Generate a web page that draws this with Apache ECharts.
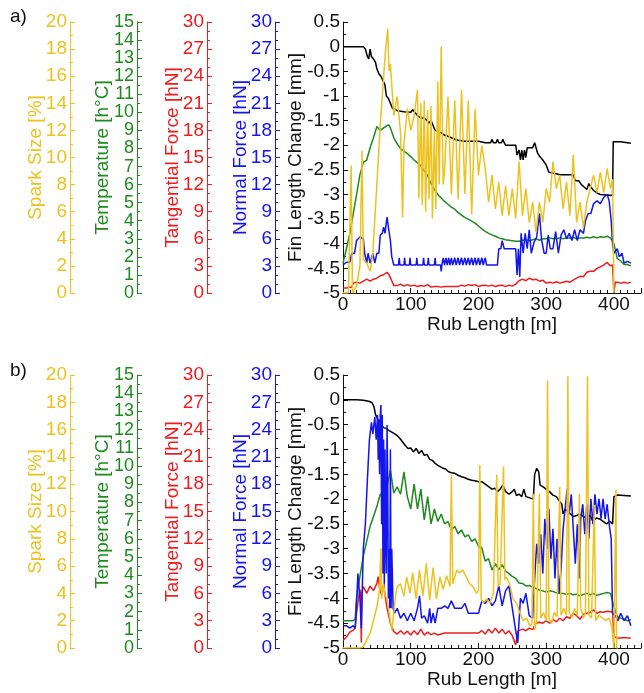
<!DOCTYPE html>
<html><head><meta charset="utf-8">
<script src="https://cdn.jsdelivr.net/npm/echarts@6/dist/echarts.min.js"></script>
<style>html,body{margin:0;padding:0;background:#fff}#c{width:644px;height:693px}</style>
</head><body><div id="c"></div>
<script>
// ---------- Panel a ----------
const finA = [[0,0],[30,0],[33,-0.05],[36,-0.2],[38,-0.25],[40,-0.05],[42,-0.2],[45,-0.25],[48,-0.32],[50,-0.45],[53,-0.55],[56,-0.6],[60,-0.72],[62,-0.78],[64,-1.0],[67,-1.05],[70,-1.15],[73,-1.25],[76,-1.27],[80,-1.3],[90,-1.32],[100,-1.33],[103,-1.28],[106,-1.33],[110,-1.4],[115,-1.45],[120,-1.45],[124,-1.5],[127,-1.55],[130,-1.5],[133,-1.6],[136,-1.7],[140,-1.72],[145,-1.75],[150,-1.8],[155,-1.82],[160,-1.85],[165,-1.88],[170,-1.9],[180,-1.92],[200,-1.92],[210,-1.95],[218,-1.95],[220,-1.88],[222,-1.95],[226,-1.95],[228,-1.88],[230,-1.95],[234,-1.95],[236,-1.88],[238,-1.95],[240,-2.0],[255,-2.0],[257,-2.2],[260,-2.1],[262,-2.3],[264,-2.1],[266,-2.3],[268,-2.1],[270,-2.25],[272,-2.05],[280,-2.05],[283,-1.95],[285,-1.93],[287,-2.15],[290,-2.22],[295,-2.3],[300,-2.4],[304,-2.55],[315,-2.58],[320,-2.6],[340,-2.6],[343,-2.72],[348,-2.72],[352,-2.8],[356,-2.85],[360,-2.9],[363,-2.78],[366,-2.85],[370,-2.92],[375,-2.97],[380,-3.0],[398,-3.02],[399,-1.93],[410,-1.93],[425,-1.96]];
const tempA = [[0,1.64],[5,2.45],[10,3.27],[15,4.36],[20,5.45],[25,6.55],[30,7.23],[35,7.36],[40,8.04],[45,8.59],[50,9.22],[55,9.0],[60,9.14],[65,9.27],[68,9.3],[70,9.14],[75,8.59],[80,8.26],[85,7.99],[90,7.85],[95,7.72],[100,7.55],[105,7.36],[110,7.2],[115,7.04],[120,6.76],[125,6.49],[130,6.05],[135,5.73],[140,5.45],[145,5.26],[150,5.07],[155,4.91],[160,4.75],[165,4.64],[170,4.45],[175,4.31],[180,4.17],[185,4.09],[190,3.98],[195,3.87],[200,3.71],[205,3.55],[210,3.41],[215,3.3],[220,3.22],[225,3.14],[230,3.05],[235,3.0],[240,2.95],[245,2.92],[250,2.89],[255,2.86],[260,2.86],[265,2.92],[270,2.95],[275,2.89],[280,2.95],[285,3.0],[290,2.92],[295,3.0],[300,3.0],[305,3.05],[310,3.0],[315,3.0],[320,3.05],[325,3.0],[330,3.05],[335,3.05],[340,3.08],[345,3.0],[350,3.05],[355,3.05],[360,3.08],[365,3.05],[370,3.11],[375,3.05],[380,3.11],[385,3.08],[390,3.14],[395,3.05],[400,2.73],[405,1.91],[410,1.77],[415,1.58],[420,1.58],[425,1.5]];
const tangA = [[0,0.55],[5,0.55],[10,0.65],[13,0.65],[15,1.09],[20,1.2],[25,1.09],[30,1.31],[35,1.53],[40,1.31],[45,1.53],[50,1.64],[55,1.91],[60,2.02],[65,2.29],[68,2.0],[72,1.36],[75,0.82],[80,0.82],[85,0.98],[90,0.76],[95,0.93],[100,0.76],[105,0.87],[110,0.71],[115,0.82],[120,0.76],[125,0.93],[130,0.65],[135,0.71],[140,0.71],[145,0.65],[150,0.71],[160,0.71],[170,0.71],[175,0.87],[180,0.76],[185,0.93],[190,0.82],[195,0.93],[200,0.71],[205,0.82],[210,0.87],[215,0.76],[220,0.87],[225,0.71],[230,0.82],[235,0.87],[240,0.71],[245,0.87],[250,0.76],[255,0.98],[260,1.36],[265,1.53],[270,1.36],[275,1.64],[280,1.47],[285,1.53],[290,1.31],[295,1.42],[300,1.09],[305,1.2],[310,1.09],[315,1.25],[320,1.09],[325,1.2],[330,1.31],[335,1.2],[340,1.42],[345,1.64],[350,1.85],[355,1.8],[360,2.29],[365,2.4],[370,2.4],[375,2.73],[380,2.89],[385,3.11],[390,3.38],[395,3.0],[398,3.1],[400,0],[402,1.2],[405,1.2],[410,1.09],[415,1.2],[420,1.09],[425,1.2]];
const normA = [[0,3.1],[5,3.4],[10,3.4],[13,4.4],[17,4.4],[20,5.8],[25,6.2],[30,6.0],[32,4.4],[35,3.3],[37,4.4],[40,3.3],[44,4.4],[47,3.3],[50,4.4],[53,4.4],[55,6.4],[58,6.6],[60,7.3],[62,6.6],[65,8.4],[67,7.3],[70,5.8],[72,4.0],[75,3.1],[82,3.1],[83,3.9],[84,3.1],[90,3.1],[91,3.9],[92,3.1],[98,3.1],[99,3.9],[100,3.1],[108,3.1],[109,3.9],[110,3.1],[118,3.1],[119,3.9],[120,3.1],[125,3.1],[126,3.9],[127,3.1],[135,3.1],[136,3.9],[137,3.1],[144,3.1],[145,2.4],[146,3.1],[148,3.9],[150,3.1],[152,3.9],[154,3.1],[156,3.9],[158,3.1],[160,3.9],[162,3.1],[165,3.9],[167,3.1],[170,3.9],[172,3.1],[175,3.9],[177,3.1],[180,3.9],[182,3.1],[185,3.9],[187,3.1],[190,3.9],[192,3.1],[195,3.9],[197,3.1],[200,3.9],[202,3.1],[205,3.9],[207,3.1],[210,3.9],[212,3.1],[228,3.1],[230,4.9],[233,4.9],[235,5.8],[238,4.9],[255,4.9],[257,2.0],[259,4.9],[261,1.8],[263,6.6],[266,4.4],[269,6.6],[272,4.9],[275,7.0],[278,4.4],[282,5.6],[286,6.2],[290,8.8],[293,6.0],[297,4.4],[300,4.4],[303,6.4],[306,4.9],[310,4.9],[314,6.8],[318,4.4],[322,6.4],[326,7.0],[330,6.0],[334,6.6],[338,5.8],[342,7.0],[346,5.8],[350,7.0],[355,6.6],[358,8.0],[362,8.8],[366,8.8],[370,9.9],[375,10.2],[380,9.9],[385,10.6],[390,10.9],[393,10.2],[396,8.0],[398,5.5],[400,4.4],[405,4.9],[408,4.0],[412,4.4],[415,3.3],[420,3.5],[425,3.3]];
const sparkA = [[0,0],[8,0],[12,9.4],[14,0],[20,0.5],[25,2.0],[28,10.5],[30,2.5],[35,2.2],[40,1.6],[44,2.9],[47,5.5],[50,8.0],[55,12.4],[60,16.0],[63,18.0],[66,19.5],[68,16.4],[70,16.9],[75,13.1],[80,14.5],[85,11.8],[88,5.6],[90,11.0],[95,13.6],[100,12.0],[105,13.1],[110,15.0],[112,7.0],[115,14.0],[117,6.5],[120,14.2],[122,6.0],[125,13.5],[127,6.9],[130,13.8],[132,5.5],[135,12.0],[137,6.2],[140,15.6],[142,8.0],[145,18.2],[148,8.0],[150,9.0],[155,14.5],[160,7.3],[165,14.2],[170,6.9],[175,15.0],[180,7.3],[185,14.2],[190,5.8],[195,13.6],[200,8.7],[205,10.9],[210,9.2],[215,6.7],[220,8.7],[225,6.2],[230,8.2],[235,5.7],[240,7.9],[245,5.7],[250,7.7],[255,5.5],[260,9.7],[265,5.7],[270,7.7],[275,5.2],[280,6.7],[285,4.5],[290,6.7],[295,5.2],[300,7.7],[305,6.7],[310,9.7],[315,7.7],[320,8.7],[325,6.2],[330,8.2],[335,5.7],[340,10.2],[345,5.2],[350,6.7],[355,4.8],[360,6.7],[365,7.7],[370,8.7],[375,7.4],[380,8.9],[385,7.4],[390,9.2],[395,7.7],[398,8.4],[400,0]];

// ---------- Panel b ----------
const finB = [[0,0],[20,0],[30,-0.01],[38,-0.03],[43,-0.06],[46,-0.15],[48,-0.3],[50,-0.35],[53,-0.45],[56,-0.5],[60,-0.56],[64,-0.58],[68,-0.62],[72,-0.65],[76,-0.68],[80,-0.72],[84,-0.78],[88,-0.85],[92,-0.92],[96,-0.98],[100,-0.97],[104,-1.05],[108,-0.98],[112,-1.08],[116,-1.02],[120,-1.12],[124,-1.1],[128,-1.2],[132,-1.22],[136,-1.28],[140,-1.32],[144,-1.35],[148,-1.38],[152,-1.4],[156,-1.45],[160,-1.47],[165,-1.48],[170,-1.52],[175,-1.55],[180,-1.57],[185,-1.6],[190,-1.62],[195,-1.63],[200,-1.65],[205,-1.65],[210,-1.7],[215,-1.75],[220,-1.8],[224,-1.78],[228,-1.85],[232,-1.8],[236,-1.72],[240,-1.85],[245,-1.9],[250,-1.85],[253,-1.8],[256,-1.93],[260,-1.9],[264,-1.95],[267,-1.8],[270,-1.95],[275,-1.97],[281,-2.0],[283,-1.5],[286,-1.38],[289,-1.45],[291,-1.72],[295,-1.75],[300,-1.8],[305,-1.85],[310,-1.92],[315,-1.95],[320,-2.05],[323,-2.1],[325,-2.3],[328,-2.2],[332,-2.25],[336,-2.3],[340,-2.35],[345,-2.33],[350,-2.3],[355,-2.35],[360,-2.38],[365,-2.33],[369,-2.45],[374,-2.38],[379,-2.4],[384,-2.45],[389,-2.5],[394,-2.45],[398,-2.5],[400,-1.95],[405,-1.92],[415,-1.93],[425,-1.94]];
const tempB = [[0,1.5],[15,1.5],[18,1.6],[20,2.78],[25,3.95],[30,5.05],[35,5.86],[40,6.68],[45,7.23],[50,7.77],[55,8.45],[60,8.32],[65,8.86],[70,9.76],[75,8.51],[80,8.86],[85,8.45],[90,9.68],[95,8.32],[100,7.64],[105,9.0],[110,7.64],[115,8.73],[120,7.04],[125,8.32],[130,6.82],[135,7.64],[140,6.95],[145,7.36],[150,6.82],[155,6.95],[160,6.49],[165,6.68],[170,6.27],[175,6.49],[180,6.11],[185,6.22],[190,5.86],[195,6.0],[200,5.59],[205,5.51],[210,4.77],[215,4.91],[220,4.28],[225,4.64],[230,4.31],[235,4.58],[240,4.23],[245,4.09],[250,3.93],[255,3.82],[260,3.57],[265,3.55],[270,3.41],[275,3.44],[280,3.33],[285,3.27],[290,3.19],[295,3.14],[300,3.08],[305,3.14],[310,3.11],[315,3.03],[320,3.0],[325,3.0],[330,2.95],[335,3.0],[340,2.92],[345,2.95],[350,2.86],[355,2.95],[360,3.0],[365,2.92],[370,3.0],[375,2.89],[380,2.95],[385,3.0],[390,3.05],[395,3.0],[400,2.29],[405,1.72],[410,1.64],[415,1.58],[420,1.5],[425,1.55]];
const tangB = [[0,0.82],[5,1.2],[10,1.75],[15,1.96],[18,2.2],[20,3.8],[23,5.5],[25,6.4],[26,6.0],[27,0.6],[28,6.0],[30,6.76],[35,6.0],[40,6.8],[45,6.3],[50,7.1],[52,7.85],[55,6.0],[60,6.8],[65,4.4],[70,2.7],[75,1.8],[80,1.53],[85,1.9],[90,1.53],[95,1.85],[100,1.42],[105,1.9],[110,1.47],[115,2.07],[120,1.42],[125,1.75],[130,1.47],[135,1.64],[140,1.42],[145,1.53],[150,1.64],[200,1.64],[205,1.9],[210,1.53],[215,2.07],[220,1.64],[225,2.18],[230,1.64],[235,2.07],[240,1.53],[245,1.9],[250,1.36],[255,0.33],[258,1.85],[265,2.07],[270,1.9],[275,2.18],[280,2.02],[285,2.73],[290,2.84],[295,2.73],[300,3.0],[305,2.73],[310,3.11],[315,2.89],[320,3.27],[325,3.0],[330,3.44],[335,3.27],[340,3.82],[345,3.55],[350,3.16],[355,3.71],[360,3.82],[365,3.93],[370,4.2],[375,3.82],[380,3.98],[385,3.93],[390,4.04],[395,3.98],[398,4.0],[400,1.25],[405,1.09],[410,1.09],[415,1.15],[420,1.09],[425,1.09]];
const normB = [[0,2.45],[5,2.45],[10,2.18],[15,2.45],[18,2.18],[20,4.91],[22,8.18],[25,5.45],[27,2.18],[30,10.9],[33,13.6],[36,18.5],[39,22.9],[42,24.8],[44,23.5],[47,25.4],[49,22.9],[51,25.6],[52,20.7],[53,25.1],[54,19.1],[55,25.6],[56,26.7],[57,13.6],[58,25.6],[59,8.2],[60,22.9],[61,6.5],[62,21.8],[63,12.0],[64,8.2],[65,24.5],[66,19.1],[67,5.45],[68,10.9],[69,4.36],[70,21.8],[71,4.36],[72,10.9],[74,4.36],[76,3.82],[80,4.36],[85,3.27],[90,3.82],[95,3.0],[100,3.82],[105,3.0],[110,4.36],[113,5.73],[116,3.27],[120,3.55],[125,2.73],[128,4.36],[130,2.73],[133,3.82],[136,2.73],[140,4.36],[145,4.36],[150,4.64],[155,4.36],[160,5.18],[165,4.36],[170,4.36],[175,4.36],[180,4.91],[185,3.82],[200,3.82],[205,5.18],[210,4.91],[215,5.45],[220,4.64],[225,5.18],[230,6.82],[235,4.64],[240,6.27],[245,6.82],[250,4.36],[255,1.91],[258,0.55],[262,5.45],[266,4.91],[270,6.0],[275,3.55],[280,3.27],[283,7.64],[286,11.45],[289,9.27],[292,12.5],[295,8.18],[298,14.2],[301,10.9],[304,15.3],[307,9.8],[310,13.1],[313,7.64],[316,12.0],[319,6.0],[322,8.7],[325,13.1],[328,15.3],[331,17.5],[334,14.7],[337,16.9],[340,13.1],[343,9.27],[346,13.6],[349,7.64],[351,14.2],[354,15.8],[357,12.5],[360,15.8],[363,12.0],[366,16.4],[369,13.6],[372,16.9],[375,14.7],[378,16.4],[381,14.2],[384,16.4],[387,14.2],[390,15.8],[393,13.6],[396,12.0],[398,3.82],[402,3.55],[406,3.0],[410,3.82],[415,3.0],[420,3.55],[425,2.45]];
const sparkB = [[0,0],[25,0],[30,0.1],[35,0.6],[40,1.1],[45,2.0],[50,3.0],[54,4.2],[56,7.3],[57,3.6],[60,4.7],[62,3.9],[65,3.6],[69,2.3],[72,1.3],[75,2.6],[78,4.0],[80,4.5],[85,4.7],[90,3.8],[94,5.2],[99,4.0],[103,5.5],[108,3.6],[113,5.7],[118,3.8],[123,6.2],[128,3.5],[133,5.9],[138,3.6],[143,5.2],[148,4.3],[153,5.3],[158,4.5],[160,12.7],[162,4.7],[168,5.7],[172,5.5],[177,5.7],[182,5.2],[187,4.7],[192,4.5],[197,4.0],[200,4.2],[202,13.4],[204,3.6],[207,3.3],[212,3.6],[217,3.3],[222,4.0],[227,12.7],[229,4.5],[232,4.7],[237,13.3],[239,5.0],[241,5.2],[246,4.7],[251,3.6],[256,3.3],[261,2.6],[266,2.0],[271,2.2],[276,1.6],[279,1.8],[281,11.3],[283,1.3],[286,2.0],[290,11.3],[292,2.2],[296,2.6],[300,2.0],[302,19.6],[304,2.2],[308,1.8],[312,2.6],[316,2.3],[320,11.8],[322,2.4],[326,2.9],[330,2.4],[332,19.9],[334,2.6],[338,2.2],[342,2.9],[346,2.4],[349,11.3],[351,2.9],[355,2.2],[358,2.6],[361,19.9],[363,2.4],[367,2.2],[371,10.5],[373,2.0],[378,2.4],[383,2.2],[388,2.0],[393,2.2],[397,1.5],[400,0],[402,0],[403,11.6],[404,0],[406,0]];

// ---------- axes definitions ----------
const xTickLabels = [0, 100, 200, 300, 400];
const finTicks = { min: -5, max: 0.5, interval: 0.5 };
const sideAxes = [
  { name: 'Spark Size [%]', max: 20, interval: 2, minor: 2, color: '#EDC21E', offset: 273, fs: 19 },
  { name: 'Temperature [h°C]', max: 15, interval: 1, minor: 2, color: '#1E8A1E', offset: 206, fs: 18 },
  { name: 'Tangential Force [hN]', max: 30, interval: 3, minor: 3, color: '#EE1C1C', offset: 136, fs: 19 },
  { name: 'Normal Force [hN]', max: 30, interval: 3, minor: 3, color: '#1414EE', offset: 68, fs: 19 }
];

const FONT = 'Liberation Sans, Arial, sans-serif';
const TICK_FS = 19, NAME_FS = 19;
const grids = [
  { left: 343, top: 22, width: 298, height: 271 },
  { left: 343, top: 375, width: 298, height: 273 }
];

const xAxes = [], yAxes = [], series = [];
const panels = [
  { fin: finA, temp: tempA, tang: tangA, norm: normA, spark: sparkA },
  { fin: finB, temp: tempB, tang: tangB, norm: normB, spark: sparkB }
];

panels.forEach((p, gi) => {
  xAxes.push({
    type: 'value', gridIndex: gi, min: 0, max: 440, interval: 100,
    name: 'Rub Length [m]', nameLocation: 'middle', nameGap: 22, nameMoveOverlap: false,
    nameTextStyle: { fontSize: NAME_FS, fontFamily: FONT, color: '#111' },
    axisLine: { show: true, onZero: false, lineStyle: { color: '#111', width: 1 } },
    axisTick: { show: true, inside: true, length: 5, lineStyle: { color: '#111' } },
    minorTick: { show: true, splitNumber: 10, length: 3, lineStyle: { color: '#111' } },
    axisLabel: { fontSize: TICK_FS, fontFamily: FONT, color: '#111', margin: 2, showMinLabel: true,
      hideOverlap: false,
      formatter: v => xTickLabels.indexOf(v) >= 0 ? String(v) : '' },
    splitLine: { show: false }, minorSplitLine: { show: false }
  });
  const base = yAxes.length;
  yAxes.push({
    type: 'value', gridIndex: gi, position: 'left', offset: 0,
    min: finTicks.min, max: finTicks.max, interval: finTicks.interval,
    name: 'Fin Length Change [mm]', nameLocation: 'middle', nameGap: 38, nameRotate: 90, nameMoveOverlap: false,
    nameTextStyle: { fontSize: NAME_FS, fontFamily: FONT, color: '#111' },
    axisLine: { show: true, onZero: false, lineStyle: { color: '#111', width: 1 } },
    axisTick: { show: true, inside: true, length: 5, lineStyle: { color: '#111' } },
    minorTick: { show: true, splitNumber: 2, length: 3, lineStyle: { color: '#111' } },
    axisLabel: { fontSize: TICK_FS, fontFamily: FONT, color: '#111', margin: 3,
      showMinLabel: true, showMaxLabel: true, hideOverlap: false },
    splitLine: { show: false }, minorSplitLine: { show: false }
  });
  sideAxes.forEach(a => {
    yAxes.push({
      type: 'value', gridIndex: gi, position: 'left', offset: a.offset,
      min: 0, max: a.max, interval: a.interval,
      name: a.name, nameLocation: 'middle', nameGap: 25, nameRotate: 90, nameMoveOverlap: false,
      nameTextStyle: { fontSize: NAME_FS, fontFamily: FONT, color: a.color },
      axisLine: { show: true, onZero: false, lineStyle: { color: a.color, width: 1 } },
      axisTick: { show: true, inside: true, length: 5, lineStyle: { color: a.color } },
      minorTick: { show: true, splitNumber: a.minor, length: 3, lineStyle: { color: a.color } },
      axisLabel: { fontSize: a.fs, fontFamily: FONT, color: a.color, margin: 3,
        showMinLabel: true, showMaxLabel: true, hideOverlap: false },
      splitLine: { show: false }, minorSplitLine: { show: false }
    });
  });
  const mk = (data, yi, color) => ({
    type: 'line', xAxisIndex: gi, yAxisIndex: base + yi, data: data,
    showSymbol: false, symbol: 'none', clip: true,
    lineStyle: { color: color, width: 1.5 }, itemStyle: { color: color }
  });
  series.push(mk(p.fin, 0, '#000000'));
  series.push(mk(p.temp, 2, sideAxes[1].color));
  series.push(mk(p.tang, 3, sideAxes[2].color));
  series.push(mk(p.norm, 4, sideAxes[3].color));
  series.push(mk(p.spark, 1, sideAxes[0].color));
});

const chart = echarts.init(document.getElementById('c'), null, { renderer: 'canvas' });
chart.setOption({
  animation: false,
  backgroundColor: '#ffffff',
  grid: grids,
  xAxis: xAxes,
  yAxis: yAxes,
  series: series,
  graphic: [
    { type: 'text', left: 10, top: 7, style: { text: 'a)', fontSize: 19, fontFamily: FONT, fill: '#111' } },
    { type: 'text', left: 10, top: 361, style: { text: 'b)', fontSize: 19, fontFamily: FONT, fill: '#111' } }
  ]
});
</script>
</body></html>
